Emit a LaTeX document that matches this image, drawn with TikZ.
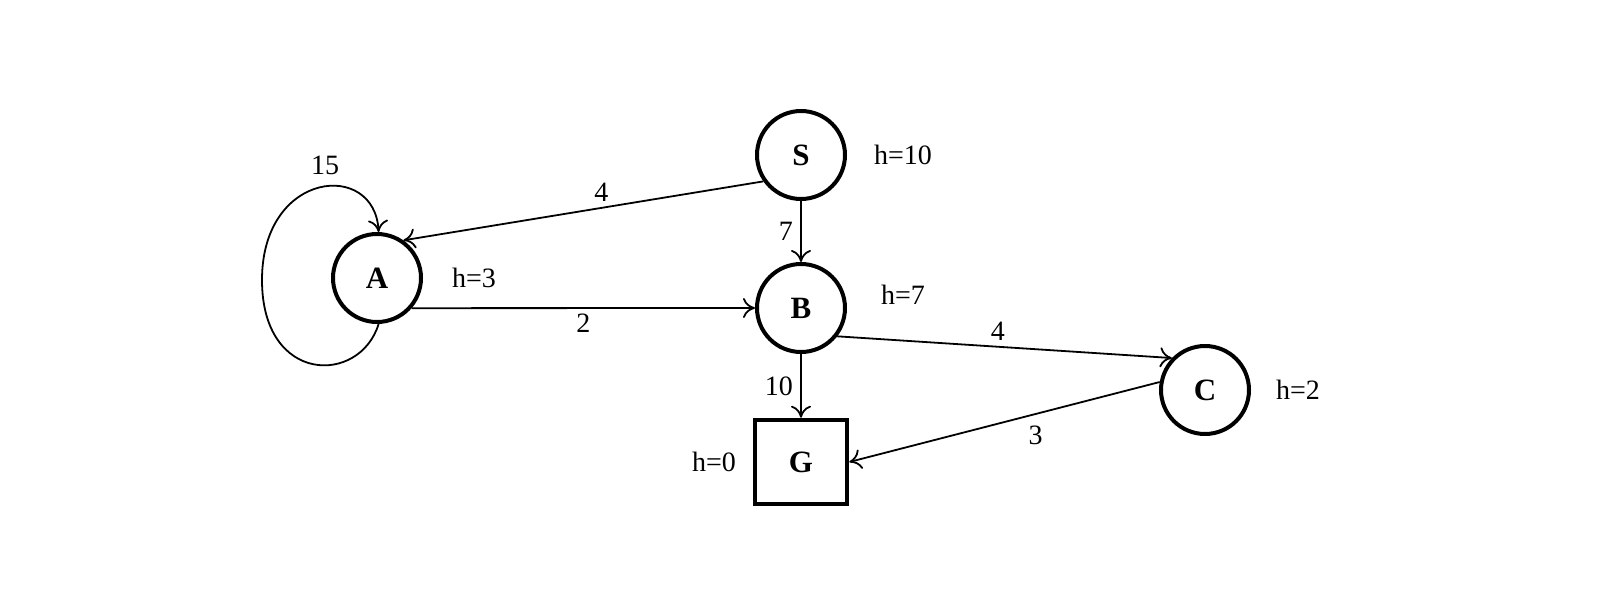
\documentclass[tikz,border=0pt]{standalone}
\usepackage{fontspec}
\setmainfont{Liberation Serif}
\usetikzlibrary{arrows.meta}
\begin{document}
\begin{tikzpicture}[x=1pt,y=-1pt,
  st/.style={circle,draw,line width=4pt,minimum size=88pt,inner sep=0pt,font=\fontsize{31}{33}\selectfont\bfseries},
  goal/.style={rectangle,draw,line width=4.5pt,minimum width=92pt,minimum height=84pt,font=\fontsize{31}{33}\selectfont\bfseries},
  lab/.style={font=\fontsize{28}{30}\selectfont},
  ed/.style={line width=1.8pt,-{To[length=12pt,width=20pt]}}]
\useasboundingbox (0,0) rectangle (1610,594);
\node[st] (S) at (801,155) {S};
\node[st] (A) at (377,278) {A};
\node[st] (B) at (801,308) {B};
\node[st] (C) at (1205,390) {C};
\node[goal] (G) at (801,462) {G};
\node[lab] (hS) at (903,155) {h=10};
\node[lab] (hA) at (474,278) {h=3};
\node[lab] (hB) at (903,295) {h=7};
\node[lab] (hC) at (1298,390) {h=2};
\node[lab] (hG) at (714,462) {h=0};
\draw[ed] (S.-145) -- (A.55) node[lab,pos=0.45,above=2pt] (l1) {4};
\draw[ed] (S) -- (B) node[lab,midway,left=4pt] (l2) {7};
\draw[ed] (A.-41) -- (B.west) node[lab,pos=0.5,below=2pt] (l3) {2};
\draw[ed] (B.-38) -- (C.136) node[lab,pos=0.48,above=2pt] (l4) {4};
\draw[ed] (B) -- (G) node[lab,midway,left=4pt] (l5) {10};
\draw[ed] (C.170) -- (G.east) node[lab,pos=0.4,below=8pt] (l6) {3};
\draw[ed] (A.-88) .. controls (360,385) and (262,385) .. (262,280)
  .. controls (262,170) and (375,160) .. (A.88);
\node[lab] (l7) at (325,165) {15};
\end{tikzpicture}
\end{document}
